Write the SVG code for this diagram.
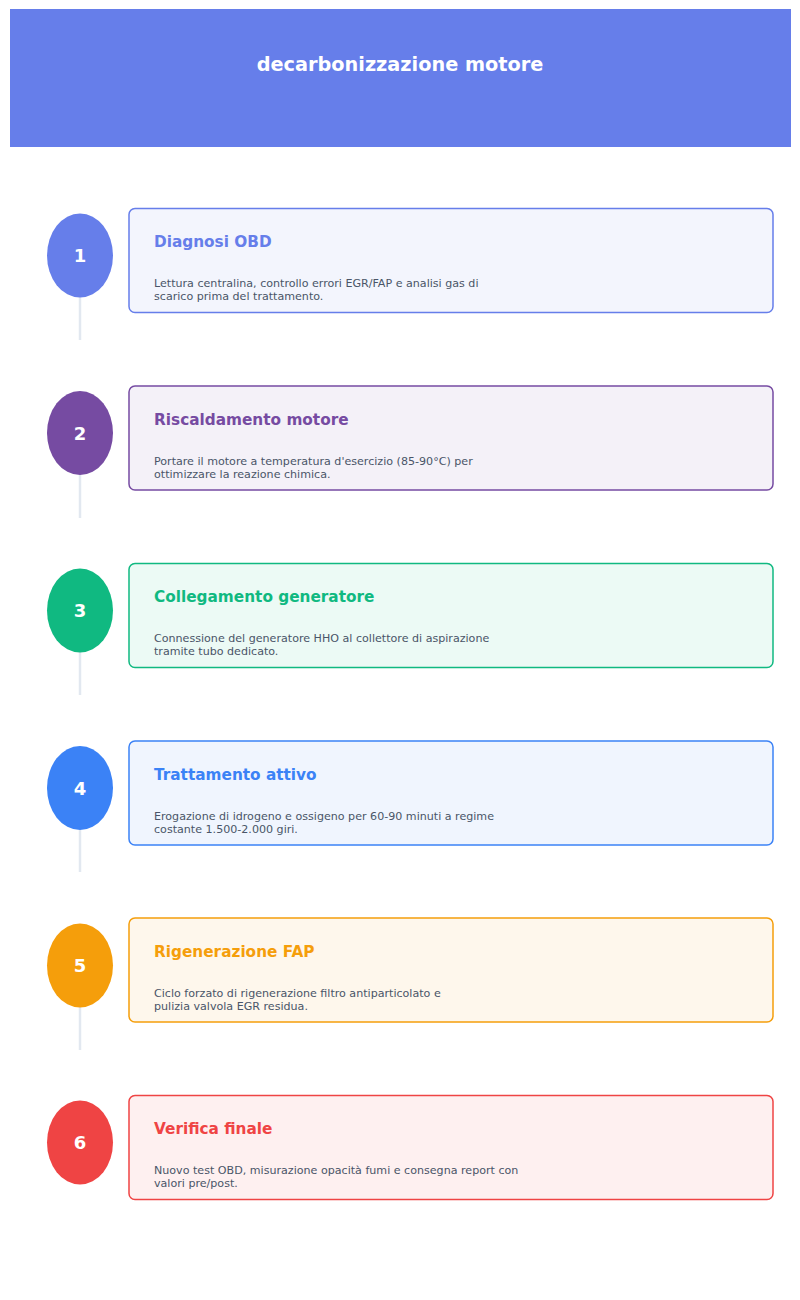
<svg xmlns="http://www.w3.org/2000/svg" width="800" height="1300" viewBox="0 0 800 1300">
<style>
text{font-family:"DejaVu Sans",Verdana,sans-serif}
.head{font-size:19.3px;font-weight:bold;fill:#ffffff}
.num{font-size:18px;font-weight:bold;fill:#ffffff}
.ttl{font-size:15.3px;font-weight:bold}
.desc{font-size:11.1px;fill:#4a5568}
.card{stroke-width:1.5}
.conn{stroke:#e2e8f0;stroke-width:2.5}
</style>
<rect width="800" height="1300" fill="#ffffff"/>
<g id="header">
<rect x="10" y="9" width="781" height="138" fill="#667eea"/>
<text class="head" x="400" y="70.5" text-anchor="middle">decarbonizzazione motore</text>
</g>
<g id="connectors">
<line class="conn" x1="80" y1="297" x2="80" y2="340"/>
<line class="conn" x1="80" y1="475" x2="80" y2="518"/>
<line class="conn" x1="80" y1="652" x2="80" y2="695"/>
<line class="conn" x1="80" y1="830" x2="80" y2="872"/>
<line class="conn" x1="80" y1="1007" x2="80" y2="1050"/>
</g>
<g id="step1">
<ellipse cx="80" cy="255.5" rx="33" ry="42" fill="#667eea"/>
<text class="num" x="80" y="262" text-anchor="middle">1</text>
<rect class="card" x="129" y="208.5" width="644" height="104" rx="6" fill="#667eea" fill-opacity="0.08" stroke="#667eea"/>
<text class="ttl" x="154" y="247" fill="#667eea">Diagnosi OBD</text>
<text class="desc" x="154" y="287">Lettura centralina, controllo errori EGR/FAP e analisi gas di</text>
<text class="desc" x="154" y="300">scarico prima del trattamento.</text>
</g>
<g id="step2">
<ellipse cx="80" cy="433" rx="33" ry="42" fill="#764ba2"/>
<text class="num" x="80" y="439.5" text-anchor="middle">2</text>
<rect class="card" x="129" y="386" width="644" height="104" rx="6" fill="#764ba2" fill-opacity="0.08" stroke="#764ba2"/>
<text class="ttl" x="154" y="424.5" fill="#764ba2">Riscaldamento motore</text>
<text class="desc" x="154" y="464.5">Portare il motore a temperatura d'esercizio (85-90°C) per</text>
<text class="desc" x="154" y="477.5">ottimizzare la reazione chimica.</text>
</g>
<g id="step3">
<ellipse cx="80" cy="610.5" rx="33" ry="42" fill="#10b981"/>
<text class="num" x="80" y="617" text-anchor="middle">3</text>
<rect class="card" x="129" y="563.5" width="644" height="104" rx="6" fill="#10b981" fill-opacity="0.08" stroke="#10b981"/>
<text class="ttl" x="154" y="602" fill="#10b981">Collegamento generatore</text>
<text class="desc" x="154" y="642">Connessione del generatore HHO al collettore di aspirazione</text>
<text class="desc" x="154" y="655">tramite tubo dedicato.</text>
</g>
<g id="step4">
<ellipse cx="80" cy="788" rx="33" ry="42" fill="#3b82f6"/>
<text class="num" x="80" y="794.5" text-anchor="middle">4</text>
<rect class="card" x="129" y="741" width="644" height="104" rx="6" fill="#3b82f6" fill-opacity="0.08" stroke="#3b82f6"/>
<text class="ttl" x="154" y="779.5" fill="#3b82f6">Trattamento attivo</text>
<text class="desc" x="154" y="819.5">Erogazione di idrogeno e ossigeno per 60-90 minuti a regime</text>
<text class="desc" x="154" y="832.5">costante 1.500-2.000 giri.</text>
</g>
<g id="step5">
<ellipse cx="80" cy="965.5" rx="33" ry="42" fill="#f59e0b"/>
<text class="num" x="80" y="972" text-anchor="middle">5</text>
<rect class="card" x="129" y="918" width="644" height="104" rx="6" fill="#f59e0b" fill-opacity="0.08" stroke="#f59e0b"/>
<text class="ttl" x="154" y="957" fill="#f59e0b">Rigenerazione FAP</text>
<text class="desc" x="154" y="997">Ciclo forzato di rigenerazione filtro antiparticolato e</text>
<text class="desc" x="154" y="1010">pulizia valvola EGR residua.</text>
</g>
<g id="step6">
<ellipse cx="80" cy="1142.5" rx="33" ry="42" fill="#ef4444"/>
<text class="num" x="80" y="1149" text-anchor="middle">6</text>
<rect class="card" x="129" y="1095.5" width="644" height="104" rx="6" fill="#ef4444" fill-opacity="0.08" stroke="#ef4444"/>
<text class="ttl" x="154" y="1134" fill="#ef4444">Verifica finale</text>
<text class="desc" x="154" y="1174">Nuovo test OBD, misurazione opacità fumi e consegna report con</text>
<text class="desc" x="154" y="1187">valori pre/post.</text>
</g>
</svg>
